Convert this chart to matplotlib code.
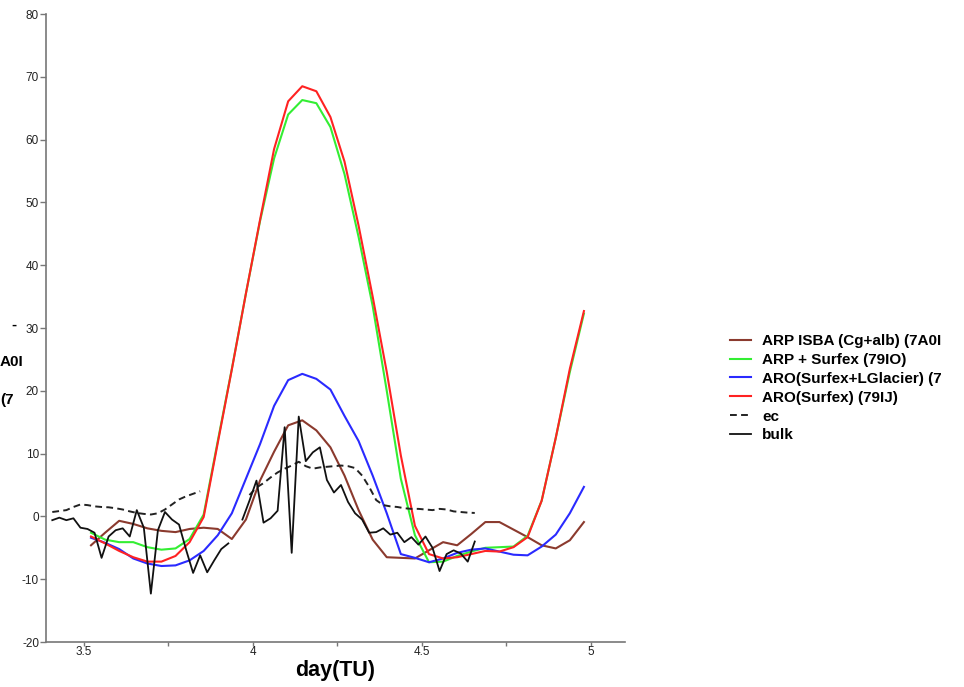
import numpy as np
import matplotlib
matplotlib.use("Agg")
from matplotlib import pyplot as plt
from matplotlib.ticker import MultipleLocator

plt.rcParams['font.family'] = ['Liberation Sans', 'DejaVu Sans']
plt.rcParams['axes.unicode_minus'] = False

# modèles : sorties horaires (centrées sur la demi-heure)
t_model = 3.5 + (np.arange(36) + 0.5) / 24.0

arp_isba = [-4.6, -2.6, -0.7, -1.2, -1.9, -2.3, -2.5, -2.0, -1.8, -2.0,
            -3.6, -0.5, 5.7, 10.3, 14.5, 15.3, 13.7, 11.0, 6.5, 1.0,
            -3.7, -6.5, -6.6, -6.7, -5.4, -4.1, -4.6, -2.8, -0.9, -0.9,
            -2.1, -3.3, -4.6, -5.1, -3.8, -0.9]
arp_surfex = [-2.6, -3.7, -4.1, -4.1, -4.9, -5.3, -5.1, -3.6, 0.3, 12.0,
              23.5, 35.5, 47.0, 57.0, 64.0, 66.3, 65.8, 62.0, 54.5, 44.5,
              33.5, 20.0, 6.0, -3.0, -7.3, -7.2, -6.3, -5.6, -5.0, -4.9,
              -4.8, -3.1, 2.5, 12.5, 23.0, 32.3]
aro_glacier = [-3.4, -4.2, -5.2, -6.7, -7.5, -7.9, -7.8, -7.0, -5.5, -3.0,
               0.5, 6.0, 11.5, 17.6, 21.7, 22.7, 21.9, 20.2, 16.0, 12.0,
               6.5, 0.5, -6.0, -6.6, -7.3, -6.7, -5.8, -5.3, -5.1, -5.6,
               -6.1, -6.2, -4.8, -2.9, 0.5, 4.7]
aro_surfex = [-3.2, -4.3, -5.5, -6.5, -7.2, -7.2, -6.3, -4.1, -0.1, 11.7,
              23.4, 35.5, 47.2, 58.5, 66.1, 68.5, 67.7, 63.6, 56.5, 46.3,
              35.0, 23.0, 9.7, -1.5, -6.0, -6.7, -6.5, -6.0, -5.5, -5.6,
              -4.9, -3.3, 2.5, 12.5, 23.5, 32.7]

# observations : pas de 30 min
t_obs = 3.40625 + np.arange(61) / 48.0
nan = np.nan
ec = [0.7, 0.85, 1.0, 1.5, 1.9, 1.8, 1.6, 1.5, 1.45, 1.3,
      1.1, 0.8, 0.55, 0.4, 0.3, 0.5, 1.1, 1.9, 2.7, 3.2,
      3.6, 4.0, nan, nan, nan, nan, nan, nan, 3.4, 4.6,
      5.3, 6.2, 7.0, 7.6, 8.1, 8.7, 8.0, 7.6, 7.8, 7.9,
      8.0, 8.1, 8.0, 7.7, 6.5, 4.7, 2.6, 1.8, 1.6, 1.5,
      1.3, 1.2, 1.2, 1.1, 1.0, 1.2, 1.1, 0.8, 0.7, 0.6,
      0.55]
bulk = [-0.6, -0.2, -0.6, -0.3, -1.8, -2.0, -2.6, -6.6, -3.2, -2.2,
        -1.9, -3.2, 1.0, -1.8, -12.3, -2.2, 0.7, -0.5, -1.3, -5.3,
        -9.0, -6.2, -8.9, -7.0, -5.2, -4.3, nan, -0.5, 2.5, 5.7,
        -1.0, -0.3, 0.9, 14.2, -5.8, 15.9, 8.8, 10.2, 11.0, 5.8,
        3.8, 5.0, 2.3, 0.5, -0.5, -2.6, -2.5, -1.9, -2.9, -2.6,
        -4.1, -3.3, -4.5, -3.2, -5.0, -8.7, -6.0, -5.4, -5.9, -7.2,
        -4.0]

# libellés tels qu'ils apparaissent (coupés au bord de la figure)
labels = ['ARP ISBA (Cg+alb) (7A0I', 'ARP + Surfex (79IO)', 'ARO(Surfex+LGlacier) (7',
          'ARO(Surfex) (79IJ)', 'ec', 'bulk']

fig = plt.figure(figsize=(9.64, 6.87), dpi=100)
ax = fig.add_axes([0.0477, 0.0655, 0.6006, 0.9141])

ax.plot(t_model, arp_isba, color='#8b3a2e', lw=1.5, label=labels[0])
ax.plot(t_model, arp_surfex, color='#33ee33', lw=1.5, label=labels[1])
ax.plot(t_model, aro_glacier, color='#2a2aff', lw=1.5, label=labels[2])
ax.plot(t_model, aro_surfex, color='#ff2222', lw=1.5, label=labels[3])
ax.plot(t_obs, ec, color='#222222', lw=1.4, ls=(0, (3.5, 2.2)), label=labels[4])
ax.plot(t_obs, bulk, color='#111111', lw=1.3, label=labels[5])

ax.set_xlim(3.3876, 5.1006)
ax.set_ylim(-20, 80)
ax.yaxis.set_major_locator(MultipleLocator(10))
ax.xaxis.set_major_locator(MultipleLocator(0.5))
ax.xaxis.set_minor_locator(MultipleLocator(0.25))
ax.xaxis.set_major_formatter(plt.FuncFormatter(lambda x, pos: f"{x:g}"))

for side in ['top', 'right']:
    ax.spines[side].set_visible(False)
for side in ['left', 'bottom']:
    ax.spines[side].set_color('#777777')
    ax.spines[side].set_linewidth(1.2)
ax.tick_params(which='both', direction='out', length=4, width=1, color='#777777',
               labelsize=8.5, labelcolor='#222222')
ax.tick_params(axis='x', which='both', length=3, pad=0)
ax.tick_params(axis='y', pad=1)

ax.set_xlabel('day(TU)', fontsize=15.5, fontweight='bold', labelpad=1)

leg = fig.legend(loc='upper left', bbox_to_anchor=(730 / 964, 1 - 334 / 687),
                 frameon=False, prop={'size': 11, 'weight': 'bold'},
                 handlelength=1.35, handletextpad=0.75, labelspacing=0.32,
                 borderpad=0, borderaxespad=0)

# morceaux de texte au bord gauche
fig.text(17 / 964, 1 - 325 / 687, '-', ha='right', va='center', fontsize=11, fontweight='bold')
fig.text(0.0, 1 - 362 / 687, 'A0I', ha='left', va='center', fontsize=11, fontweight='bold')
fig.text(0.0, 1 - 400 / 687, '(7', ha='left', va='center', fontsize=11, fontweight='bold')

fig.savefig('out.png', dpi=100)
